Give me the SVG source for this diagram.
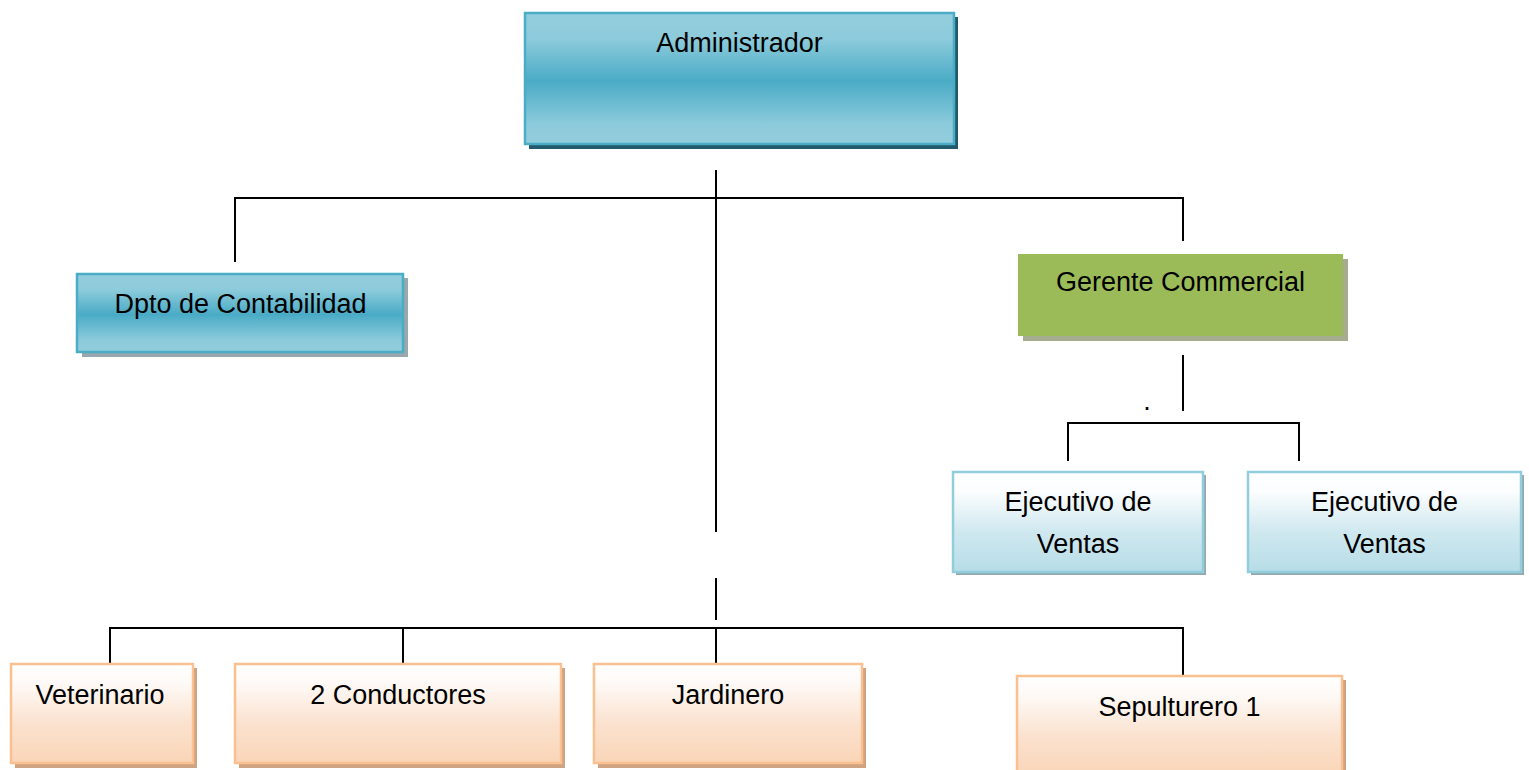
<svg xmlns="http://www.w3.org/2000/svg" width="1529" height="770" viewBox="0 0 1529 770">
<style>
  text { font-family: "Liberation Sans", Arial, sans-serif; font-size: 27px; fill: #000; text-anchor: middle; }
  .line { stroke: #000; stroke-width: 2; fill: none; }
  .blue { fill: url(#gBlue); stroke: #4bacc6; stroke-width: 2.5; }
  .green { fill: #9bbb59; }
  .lblue { fill: url(#gLight); stroke: #92cddc; stroke-width: 2.5; }
  .peach { fill: url(#gPeach); stroke: #fac090; stroke-width: 2.5; }
</style>
<defs>
  <linearGradient id="gBlue" x1="0" y1="0" x2="0" y2="1">
    <stop offset="0" stop-color="#93cddd"/>
    <stop offset="0.2" stop-color="#8ccbdb"/>
    <stop offset="0.52" stop-color="#4aabc6"/>
    <stop offset="0.85" stop-color="#8ccbdb"/>
    <stop offset="1" stop-color="#93cddd"/>
  </linearGradient>
  <linearGradient id="gLight" x1="0" y1="0" x2="0" y2="1">
    <stop offset="0" stop-color="#ffffff"/>
    <stop offset="0.2" stop-color="#fbfdfe"/>
    <stop offset="0.6" stop-color="#cfe8ef"/>
    <stop offset="1" stop-color="#b7dde8"/>
  </linearGradient>
  <linearGradient id="gPeach" x1="0" y1="0" x2="0" y2="1">
    <stop offset="0" stop-color="#ffffff"/>
    <stop offset="0.2" stop-color="#fef9f6"/>
    <stop offset="0.6" stop-color="#fbe2cf"/>
    <stop offset="1" stop-color="#f9d5b7"/>
  </linearGradient>
</defs>

<g id="connectors">
  <path class="line" d="M716 170 V532 M716 578 V620"/>
  <path class="line" d="M235 262 V198 H1183 V241"/>
  <path class="line" d="M1183 355 V411"/>
  <path class="line" d="M1068 461 V423 H1299 V461"/>
  <path class="line" d="M110 664 V628 H1183 V676"/>
  <path class="line" d="M403 628 V664 M716 628 V664"/>
</g>

<g id="administrador">
  <rect x="529" y="17" width="429" height="132" fill="#215a6a"/>
  <rect x="525" y="13" width="429" height="131" class="blue"/>
  <text x="739.5" y="52" font-size="27.5">Administrador</text>
</g>

<g id="dpto-contabilidad">
  <rect x="82" y="278" width="326" height="79" fill="#99a8ad"/>
  <rect x="77" y="274" width="326" height="78" class="blue"/>
  <text x="240.5" y="313">Dpto de Contabilidad</text>
</g>

<g id="gerente-commercial">
  <rect x="1023" y="259" width="325" height="82" fill="#a5ac8f"/>
  <rect x="1018" y="254" width="325" height="82" class="green"/>
  <text x="1180.5" y="291">Gerente Commercial</text>
</g>

<text x="1147" y="410" font-size="12">.</text>

<g id="ejecutivo-1">
  <rect x="956" y="475" width="250" height="100" fill="#93a9b0"/>
  <rect x="953" y="472" width="250" height="100" class="lblue"/>
  <text x="1078" y="511">Ejecutivo de</text>
  <text x="1078" y="553">Ventas</text>
</g>

<g id="ejecutivo-2">
  <rect x="1251" y="475" width="273" height="100" fill="#93a9b0"/>
  <rect x="1248" y="472" width="273" height="100" class="lblue"/>
  <text x="1384.5" y="511">Ejecutivo de</text>
  <text x="1384.5" y="553">Ventas</text>
</g>

<g id="veterinario">
  <rect x="15" y="668" width="182" height="100" fill="#cfa381"/>
  <rect x="11" y="664" width="182" height="99" class="peach"/>
  <text x="100" y="704">Veterinario</text>
</g>

<g id="conductores">
  <rect x="239" y="668" width="326" height="100" fill="#cfa381"/>
  <rect x="235" y="664" width="326" height="99" class="peach"/>
  <text x="398" y="704">2 Conductores</text>
</g>

<g id="jardinero">
  <rect x="598" y="668" width="268" height="100" fill="#cfa381"/>
  <rect x="594" y="664" width="268" height="99" class="peach"/>
  <text x="728" y="704">Jardinero</text>
</g>

<g id="sepulturero">
  <rect x="1021" y="680" width="325" height="100" fill="#cfa381"/>
  <rect x="1017" y="676" width="325" height="100" class="peach"/>
  <text x="1179.5" y="716">Sepulturero 1</text>
</g>
</svg>
